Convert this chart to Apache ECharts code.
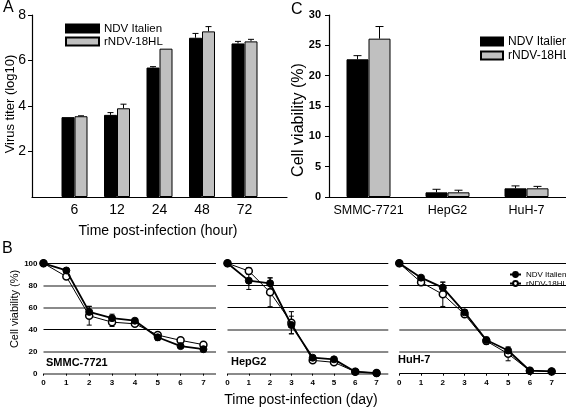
<!DOCTYPE html>
<html>
<head>
<meta charset="utf-8">
<script src="https://cdn.jsdelivr.net/npm/echarts@6/dist/echarts.min.js"></script>
<style>html,body{margin:0;padding:0;background:#fff}#c{width:566px;height:408px}</style>
</head>
<body>
<div id="c"></div>
<script>
// ---------- Data ----------
// Panel A: virus titer (log10)
const hours = ['6', '12', '24', '48', '72'];
const hourPos = [1, 2, 3, 4, 5];
const titerNDV = [3.51, 3.61, 5.69, 7.0, 6.75];
const titerNDVErr = [0.0, 0.1, 0.04, 0.19, 0.09];
const titerR = [3.55, 3.90, 6.52, 7.28, 6.84];
const titerRErr = [0.02, 0.18, 0.0, 0.21, 0.09];

// Panel C: cell viability (%)
const cells = ['SMMC-7721', 'HepG2', 'HuH-7'];
const viaNDV = [22.7, 0.77, 1.43];
const viaNDVErr = [0.6, 0.5, 0.4];
const viaR = [26.1, 0.77, 1.43];
const viaRErr = [2.0, 0.35, 0.32];

// Panel B: cell viability over days
const days = [0, 1, 2, 3, 4, 5, 6, 7];
const smmcNDV = [100, 93.5, 56, 50.3, 48, 33, 25, 22.2];
const smmcNDVErr = [0, 1.5, 5, 3.6, 2, 3, 1, 1];
const smmcR = [100, 88, 52.5, 46.7, 45.2, 35, 30.2, 26.3];
const smmcRErr = [0, 1, 8.5, 3.9, 2, 2, 1, 1];
const hepNDV = [100, 84.3, 81.9, 44.1, 14.5, 13, 1.8, 0.5];
const hepNDVErr = [0, 8, 5, 8, 1, 1, 0.5, 0];
const hepR = [100, 93, 73.7, 46.2, 12.1, 10.3, 1.8, 0.6];
const hepRErr = [0, 3, 13, 10, 1, 1, 0.5, 0];
const huhNDV = [100, 87, 78, 55.6, 30.5, 21, 2.7, 2.1];
const huhNDVErr = [0, 1.5, 5, 2, 2.5, 2, 0.5, 0];
const huhR = [100, 82.8, 71.9, 53.8, 29.6, 18, 2.7, 2.1];
const huhRErr = [0, 3, 11, 2, 3, 6.3, 0.5, 0];
const cellLabelsB = ['SMMC-7721', 'HepG2', 'HuH-7'];

// ---------- Styles ----------
const F = "'Liberation Sans', Arial, sans-serif";
const GRAYBAR = '#c0c0c0';
const GL = '#8a8a8a';
const NONE = 'rgba(0,0,0,0)';
// gridline pattern per subplot of B (from 0 up to 100): k = thin black, g = thick gray
const patterns = [
  ['g', 'g', 'k', 'g', 'g', 'k'],
  ['g', 'g', 'g', 'k', 'k', 'k'],
  ['k', 'g', 'g', 'k', 'k', 'k']
];
const bGrids = [
  { left: 43.5, width: 172.5, xmax: 7.55 },
  { left: 227.5, width: 160.8, xmax: 7.55 },
  { left: 399.3, width: 166.7, xmax: 7.66 }
];

function errRender(offset, capHalf, upOnly, color) {
  return function (params, api) {
    const x = api.value(0), y = api.value(1), e = api.value(2);
    if (!e) return null;
    const top = api.coord([x, y + e]);
    const bot = api.coord([x, upOnly ? y : y - e]);
    const cx = top[0] + offset;
    const st = { stroke: color || '#000', lineWidth: 1 };
    const ch = [
      { type: 'line', shape: { x1: cx, y1: top[1], x2: cx, y2: bot[1] }, style: st },
      { type: 'line', shape: { x1: cx - capHalf, y1: top[1], x2: cx + capHalf, y2: top[1] }, style: st }
    ];
    if (!upOnly) ch.push({ type: 'line', shape: { x1: cx - capHalf, y1: bot[1], x2: cx + capHalf, y2: bot[1] }, style: st });
    return { type: 'group', children: ch };
  };
}

const grid = [
  { left: 32, top: 15, width: 255, height: 182, outerBoundsMode: 'none' },       // A
  { left: 329, top: 15, width: 237, height: 182, outerBoundsMode: 'none' }       // C
];
const xAxis = [
  {
    type: 'value', gridIndex: 0, min: 0, max: 6, interval: 1,
    axisLine: { lineStyle: { color: '#000', width: 1.2 } },
    axisTick: { show: false },
    splitLine: { show: false },
    axisLabel: { customValues: hourPos, formatter: v => hours[hourPos.indexOf(v)] || '', color: '#000', fontFamily: F, fontSize: 14, margin: 6 }
  },
  {
    type: 'category', gridIndex: 1, data: cells, boundaryGap: true,
    axisLine: { lineStyle: { color: '#000', width: 1.2 } },
    axisTick: { show: false },
    axisLabel: { interval: 0, hideOverlap: false, color: '#000', fontFamily: F, fontSize: 12.5, margin: 7 }
  }
];
const yAxis = [
  {
    type: 'value', gridIndex: 0, min: 0, max: 8, interval: 2,
    axisLine: { show: true, lineStyle: { color: '#000', width: 1.2 } },
    axisTick: { show: true, length: 4, lineStyle: { color: '#000' } },
    splitLine: { show: false },
    axisLabel: { showMinLabel: false, color: '#000', fontFamily: F, fontSize: 14, margin: 6 }
  },
  {
    type: 'value', gridIndex: 1, min: 0, max: 30, interval: 5,
    axisLine: { show: true, lineStyle: { color: '#000', width: 1.2 } },
    axisTick: { show: true, length: 4, lineStyle: { color: '#000' } },
    splitLine: { show: false },
    axisLabel: { color: '#000', fontFamily: F, fontSize: 11, fontWeight: 'bold', margin: 8 }
  }
];

bGrids.forEach((g, i) => {
  grid.push({ left: g.left, top: 263.3, width: g.width, height: 110.4, outerBoundsMode: 'none' });
  const gi = grid.length - 1;
  xAxis.push({
    type: 'value', gridIndex: gi, min: 0, max: g.xmax, interval: 1,
    axisLine: { show: false },
    axisTick: { show: true, customValues: days, length: 2, lineStyle: { color: '#000' } },
    splitLine: { show: false },
    axisLabel: { customValues: days, color: '#000', fontFamily: F, fontSize: 8, fontWeight: 'bold', margin: 5 }
  });
  const pat = patterns[i];
  yAxis.push({
    type: 'value', gridIndex: gi, min: 0, max: 100, interval: 20,
    axisLine: { show: false }, axisTick: { show: false },
    axisLabel: { show: i === 0, color: '#000', fontFamily: F, fontSize: 8, fontWeight: 'bold', margin: 6 },
    splitLine: { show: true, lineStyle: { width: 1, color: pat.map(p => p === 'k' ? '#000' : NONE) } }
  });
  yAxis.push({
    type: 'value', gridIndex: gi, min: 0, max: 100, interval: 20,
    axisLine: { show: false }, axisTick: { show: false }, axisLabel: { show: false },
    splitLine: { show: true, lineStyle: { width: 2, color: pat.map(p => p === 'g' ? GL : NONE) } }
  });
});

const series = [
  // Panel A bars
  { name: 'NDV Italien', type: 'bar', xAxisIndex: 0, yAxisIndex: 0, barWidth: 13, barGap: '0%',
    itemStyle: { color: '#000', borderColor: '#000', borderWidth: 1 },
    data: hourPos.map((p, i) => [p, titerNDV[i]]) },
  { name: 'rNDV-18HL', type: 'bar', xAxisIndex: 0, yAxisIndex: 0, barWidth: 13, barGap: '0%',
    itemStyle: { color: GRAYBAR, borderColor: '#000', borderWidth: 1 },
    data: hourPos.map((p, i) => [p, titerR[i]]) },
  { type: 'custom', xAxisIndex: 0, yAxisIndex: 0, renderItem: errRender(-6.5, 3, true), z: 3,
    data: hourPos.map((p, i) => [p, titerNDV[i], titerNDVErr[i]]) },
  { type: 'custom', xAxisIndex: 0, yAxisIndex: 0, renderItem: errRender(6.5, 3, true), z: 3,
    data: hourPos.map((p, i) => [p, titerR[i], titerRErr[i]]) },
  // Panel C bars
  { name: 'NDV Italien', type: 'bar', xAxisIndex: 1, yAxisIndex: 1, barWidth: 22, barGap: '0%',
    itemStyle: { color: '#000', borderColor: '#000', borderWidth: 1 }, data: viaNDV },
  { name: 'rNDV-18HL', type: 'bar', xAxisIndex: 1, yAxisIndex: 1, barWidth: 22, barGap: '0%',
    itemStyle: { color: GRAYBAR, borderColor: '#000', borderWidth: 1 }, data: viaR },
  { type: 'custom', xAxisIndex: 1, yAxisIndex: 1, renderItem: errRender(-11, 4, true), z: 3,
    data: cells.map((c, i) => [i, viaNDV[i], viaNDVErr[i]]) },
  { type: 'custom', xAxisIndex: 1, yAxisIndex: 1, renderItem: errRender(11, 4, true), z: 3,
    data: cells.map((c, i) => [i, viaR[i], viaRErr[i]]) }
];

const bData = [
  [smmcNDV, smmcNDVErr, smmcR, smmcRErr],
  [hepNDV, hepNDVErr, hepR, hepRErr],
  [huhNDV, huhNDVErr, huhR, huhRErr]
];
bData.forEach((d, i) => {
  const xi = 2 + i, yi = 2 + i * 2;
  series.push({ type: 'custom', xAxisIndex: xi, yAxisIndex: yi, renderItem: errRender(0, 2.5, false), z: 2,
    data: days.map((x, j) => [x, d[0][j], d[1][j]]) });
  series.push({ type: 'custom', xAxisIndex: xi, yAxisIndex: yi, renderItem: errRender(0, 2.5, false), z: 2,
    data: days.map((x, j) => [x, d[2][j], d[3][j]]) });
  series.push({ name: 'rNDV-18HL (B)', type: 'line', xAxisIndex: xi, yAxisIndex: yi, z: 3,
    symbol: 'circle', symbolSize: 7,
    lineStyle: { color: '#000', width: 1 },
    itemStyle: { color: '#fff', borderColor: '#000', borderWidth: 1.5 },
    data: days.map((x, j) => [x, d[2][j]]) });
  series.push({ name: 'NDV Italien (B)', type: 'line', xAxisIndex: xi, yAxisIndex: yi, z: 4,
    symbol: 'circle', symbolSize: 7,
    lineStyle: { color: '#000', width: 1.8 },
    itemStyle: { color: '#000', borderColor: '#000', borderWidth: 1 },
    data: days.map((x, j) => [x, d[0][j]]) });
});

const graphic = [
  { type: 'text', left: 3, top: 0, style: { text: 'A', font: '16px ' + F, fill: '#000' } },
  { type: 'text', left: 291, top: 2, style: { text: 'C', font: '16px ' + F, fill: '#000' } },
  { type: 'text', left: 2, top: 241, style: { text: 'B', font: '16px ' + F, fill: '#000' } },
  { type: 'text', x: 10, y: 104, rotation: Math.PI / 2,
    style: { text: 'Virus titer (log10)', font: '13px ' + F, fill: '#000', align: 'center', verticalAlign: 'middle' } },
  { type: 'text', x: 299, y: 120, rotation: Math.PI / 2,
    style: { text: 'Cell viability (%)', font: '16px ' + F, fill: '#000', align: 'center', verticalAlign: 'middle' } },
  { type: 'text', x: 15, y: 309, rotation: Math.PI / 2,
    style: { text: 'Cell viability (%)', font: '11px ' + F, fill: '#000', align: 'center', verticalAlign: 'middle' } },
  { type: 'text', x: 158, y: 231,
    style: { text: 'Time post-infection (hour)', font: '14px ' + F, fill: '#000', align: 'center', verticalAlign: 'middle' } },
  { type: 'text', x: 301, y: 400,
    style: { text: 'Time post-infection (day)', font: '14px ' + F, fill: '#000', align: 'center', verticalAlign: 'middle' } },
  { type: 'text', x: 46, y: 363,
    style: { text: cellLabelsB[0], font: 'bold 11px ' + F, fill: '#000', verticalAlign: 'middle' } },
  { type: 'text', x: 231, y: 362,
    style: { text: cellLabelsB[1], font: 'bold 11px ' + F, fill: '#000', verticalAlign: 'middle' } },
  { type: 'text', x: 398, y: 360,
    style: { text: cellLabelsB[2], font: 'bold 11px ' + F, fill: '#000', verticalAlign: 'middle' } }
];

const legend = [
  { left: 60, top: 17, orient: 'vertical', itemWidth: 33, itemHeight: 8, itemGap: 0, icon: 'rect',
    data: ['NDV Italien', 'rNDV-18HL'], selectedMode: false,
    textStyle: { fontFamily: F, fontSize: 11.5, color: '#000', lineHeight: 13 } },
  { left: 475, top: 30, orient: 'vertical', itemWidth: 22, itemHeight: 8, itemGap: 1, icon: 'rect',
    data: ['NDV Italien', 'rNDV-18HL'], selectedMode: false,
    textStyle: { fontFamily: F, fontSize: 12, color: '#000', lineHeight: 13 } },
  { left: 504, top: 265, orient: 'vertical', itemWidth: 11, itemHeight: 6, itemGap: 0,
    data: ['NDV Italien (B)', 'rNDV-18HL (B)'], selectedMode: false, formatter: n => n.replace(' (B)', ''),
    textStyle: { fontFamily: F, fontSize: 8, color: '#000', lineHeight: 9 } }
];

const chart = echarts.init(document.getElementById('c'), null, { renderer: 'canvas' });
chart.setOption({ animation: false, backgroundColor: '#fff', grid, xAxis, yAxis, series, graphic, legend });
</script>
</body>
</html>
